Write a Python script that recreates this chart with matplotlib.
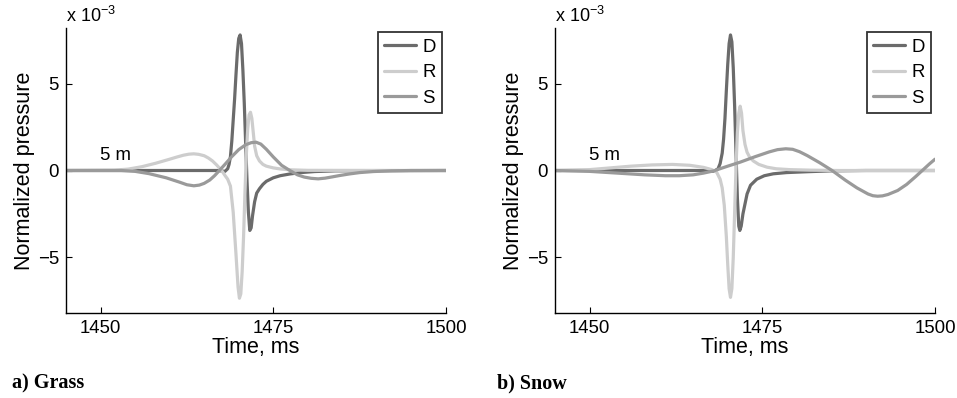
import matplotlib
matplotlib.use("Agg")
import matplotlib.pyplot as plt

# ---------------- data (pressure in units of 1e-3) ----------------
# a) Grass
t_D_grass = [1445, 1460, 1467, 1468, 1468.4, 1468.6, 1468.8, 1469.0, 1469.2, 1469.4, 1469.6, 1469.8,
             1470.0, 1470.2, 1470.4, 1470.6, 1470.8, 1471.0, 1471.2, 1471.4, 1471.6, 1471.8, 1472.0,
             1472.3, 1472.6, 1473.0, 1473.5, 1474.0, 1475.0, 1476.0, 1477.4, 1479.0, 1481.0, 1484.0, 1500]
D_grass = [0, 0, 0, -0.05, 0.1, 0.35, 0.8, 1.7, 2.9, 4.1, 5.5, 6.8,
           7.6, 7.8, 7.3, 5.8, 3.9, 1.6, -0.6, -2.4, -3.45, -3.3, -2.6,
           -1.8, -1.3, -1.05, -0.8, -0.62, -0.42, -0.3, -0.2, -0.12, -0.06, -0.02, 0]

t_R_grass = [1445, 1452, 1454, 1456, 1458, 1460, 1461, 1462, 1462.8, 1463.5, 1464.2, 1465, 1465.6,
             1466.2, 1466.8, 1467.3, 1467.7, 1468.0, 1468.4, 1468.8, 1469.2, 1469.6, 1469.9, 1470.1,
             1470.3, 1470.5, 1470.7, 1470.9, 1471.1, 1471.3, 1471.5, 1471.7, 1471.9, 1472.1, 1472.3,
             1472.6, 1473.0, 1473.5, 1474.0, 1475.0, 1476.0, 1477.4, 1480.0, 1500]
R_grass = [0, 0.02, 0.08, 0.22, 0.42, 0.65, 0.77, 0.88, 0.94, 0.96, 0.93, 0.85, 0.72,
           0.55, 0.32, 0.1, -0.1, -0.28, -0.5, -0.9, -2.4, -4.8, -6.7, -7.35,
           -7.1, -5.8, -3.8, -1.3, 0.9, 2.4, 3.2, 3.35, 3.0, 2.2, 1.4,
           0.85, 0.55, 0.35, 0.25, 0.15, 0.09, 0.04, 0.01, 0]

t_S_grass = [1445, 1453, 1455, 1457, 1459.5, 1461.5, 1462.5, 1463.5, 1464.3, 1465, 1465.8, 1466.5,
             1467.2, 1468, 1469, 1470, 1471, 1471.8, 1472.5, 1473.2, 1474, 1475, 1476.2, 1477.4,
             1478.5, 1479.5, 1480.5, 1481.5, 1482.5, 1483.5, 1484.6, 1486, 1487.5, 1489.5, 1492,
             1495, 1500]
S_grass = [0, 0, -0.05, -0.18, -0.42, -0.68, -0.82, -0.88, -0.84, -0.74, -0.55, -0.3,
           0.0, 0.35, 0.8, 1.2, 1.48, 1.6, 1.63, 1.52, 1.22, 0.78, 0.3, 0.0,
           -0.25, -0.38, -0.45, -0.48, -0.44, -0.37, -0.29, -0.2, -0.12, -0.06, -0.02,
           0, 0]

# b) Snow
t_D_snow = [1445, 1467, 1468, 1468.6, 1468.9, 1469.2, 1469.4, 1469.6, 1469.8, 1470.0, 1470.2, 1470.4,
            1470.6, 1470.8, 1471.0, 1471.2, 1471.4, 1471.6, 1471.75, 1471.95, 1472.2, 1472.8, 1473.3,
            1474.2, 1475.3, 1476.6, 1478.5, 1481.5, 1485, 1490, 1500]
D_snow = [0, 0, -0.05, 0.1, 0.4, 1.0, 1.8, 3.0, 4.6, 6.1, 7.3, 7.8,
          7.4, 5.9, 3.7, 1.0, -1.6, -3.2, -3.45, -3.2, -2.5, -1.35, -0.85,
          -0.5, -0.3, -0.19, -0.12, -0.07, -0.02, 0, 0]

t_R_snow = [1445, 1450, 1453, 1456, 1459, 1462, 1464.5, 1466.5, 1467.7, 1468.4, 1468.9, 1469.2,
            1469.5, 1469.8, 1470.0, 1470.2, 1470.4, 1470.6, 1470.8, 1471.0, 1471.2, 1471.4, 1471.6,
            1471.8, 1472.0, 1472.2, 1472.5, 1472.8, 1473.2, 1473.7, 1474.5, 1475.7, 1477, 1479,
            1482, 1486, 1500]
R_snow = [0, 0.05, 0.15, 0.25, 0.32, 0.35, 0.3, 0.18, 0.05, -0.1, -0.5, -1.0,
          -2.0, -3.8, -5.4, -6.8, -7.3, -6.8, -5.0, -2.4, 0.2, 2.2, 3.3,
          3.7, 3.3, 2.3, 1.5, 1.05, 0.75, 0.55, 0.35, 0.19, 0.1, 0.05,
          0.02, 0, 0]

t_S_snow = [1445, 1450, 1454, 1458, 1461, 1463, 1465, 1466.5, 1468, 1468.5, 1470, 1471.8, 1474,
            1476, 1477.2, 1478.4, 1479.4, 1480.4, 1481.5, 1483.3, 1485.1, 1487, 1488.7, 1490.3,
            1491, 1491.7, 1492.4, 1493.2, 1494.6, 1495.9, 1497.2, 1498.3, 1499.2, 1500]
S_snow = [0, -0.05, -0.15, -0.25, -0.3, -0.3, -0.25, -0.15, -0.02, 0.05, 0.25, 0.48, 0.8,
          1.07, 1.2, 1.25, 1.22, 1.08, 0.86, 0.45, 0.0, -0.55, -1.0, -1.35,
          -1.45, -1.48, -1.46, -1.38, -1.15, -0.8, -0.35, 0.05, 0.38, 0.65]

series_names = ["D", "R", "S"]
x_ticks = [1450, 1475, 1500]
y_ticks = [-5, 0, 5]
panel_titles = ["a) Grass", "b) Snow"]
distance_label = "5 m"

# ---------------- styling ----------------
plt.rcParams['font.family'] = ['Liberation Sans', 'DejaVu Sans']
plt.rcParams['mathtext.fontset'] = 'custom'
plt.rcParams['mathtext.rm'] = 'Liberation Sans'
plt.rcParams['mathtext.it'] = 'Liberation Sans:italic'
plt.rcParams['mathtext.bf'] = 'Liberation Sans:bold'
colors = {"D": "#6b6b6b", "R": "#cdcdcd", "S": "#9a9a9a"}
W, H = 957, 398
fig = plt.figure(figsize=(W / 100, H / 100), dpi=100)
FS = 13.4

panels = [
    (66, {"D": (t_D_grass, D_grass), "R": (t_R_grass, R_grass), "S": (t_S_grass, S_grass)}, 12),
    (555, {"D": (t_D_snow, D_snow), "R": (t_R_snow, R_snow), "S": (t_S_snow, S_snow)}, 497),
]

for (left, data, title_x), title in zip(panels, panel_titles):
    ax = fig.add_axes([left / W, 85 / H, 380 / W, 285 / H])
    for name in series_names:
        t, v = data[name]
        ax.plot(t, [val * 1e-3 for val in v], color=colors[name], lw=2.3,
                label=name, solid_capstyle='round', solid_joinstyle='round')
    ax.set_xlim(1445, 1500)
    ax.set_ylim(-8.2e-3, 8.2e-3)
    ax.set_xticks(x_ticks)
    ax.set_xticklabels([str(x) for x in x_ticks])
    ax.set_yticks([y * 1e-3 for y in y_ticks])
    ax.set_yticklabels(["\u22125", "0", "5"])
    for s in ["top", "right"]:
        ax.spines[s].set_visible(False)
    for s in ["left", "bottom"]:
        ax.spines[s].set_linewidth(1.0)
    ax.tick_params(direction='in', length=4, width=0.8, labelsize=FS, pad=5)
    ax.set_xlabel("Time, ms", fontsize=15.5, labelpad=0)
    ax.set_ylabel("Normalized pressure", fontsize=15.5, labelpad=2)
    ax.text(1449.9, 0.86e-3, distance_label, fontsize=FS, va='center', ha='left')
    leg = ax.legend(loc='upper right', bbox_to_anchor=(0.99, 0.985), fontsize=FS,
                    frameon=True, fancybox=False, handlelength=1.7, handletextpad=0.35,
                    borderpad=0.35, labelspacing=0.45, borderaxespad=0.0)
    leg.get_frame().set_edgecolor('black')
    leg.get_frame().set_linewidth(1.3)
    fig.text((left) / W, 1 - 22 / H, "x 10$^{\u22123}$", fontsize=13, ha='left', va='baseline')
    fig.text(title_x / W, 1 - 383 / H, title, fontsize=14.5, fontweight='bold',
             family='Liberation Serif', ha='left', va='center')

fig.savefig("out.png", dpi=100)
